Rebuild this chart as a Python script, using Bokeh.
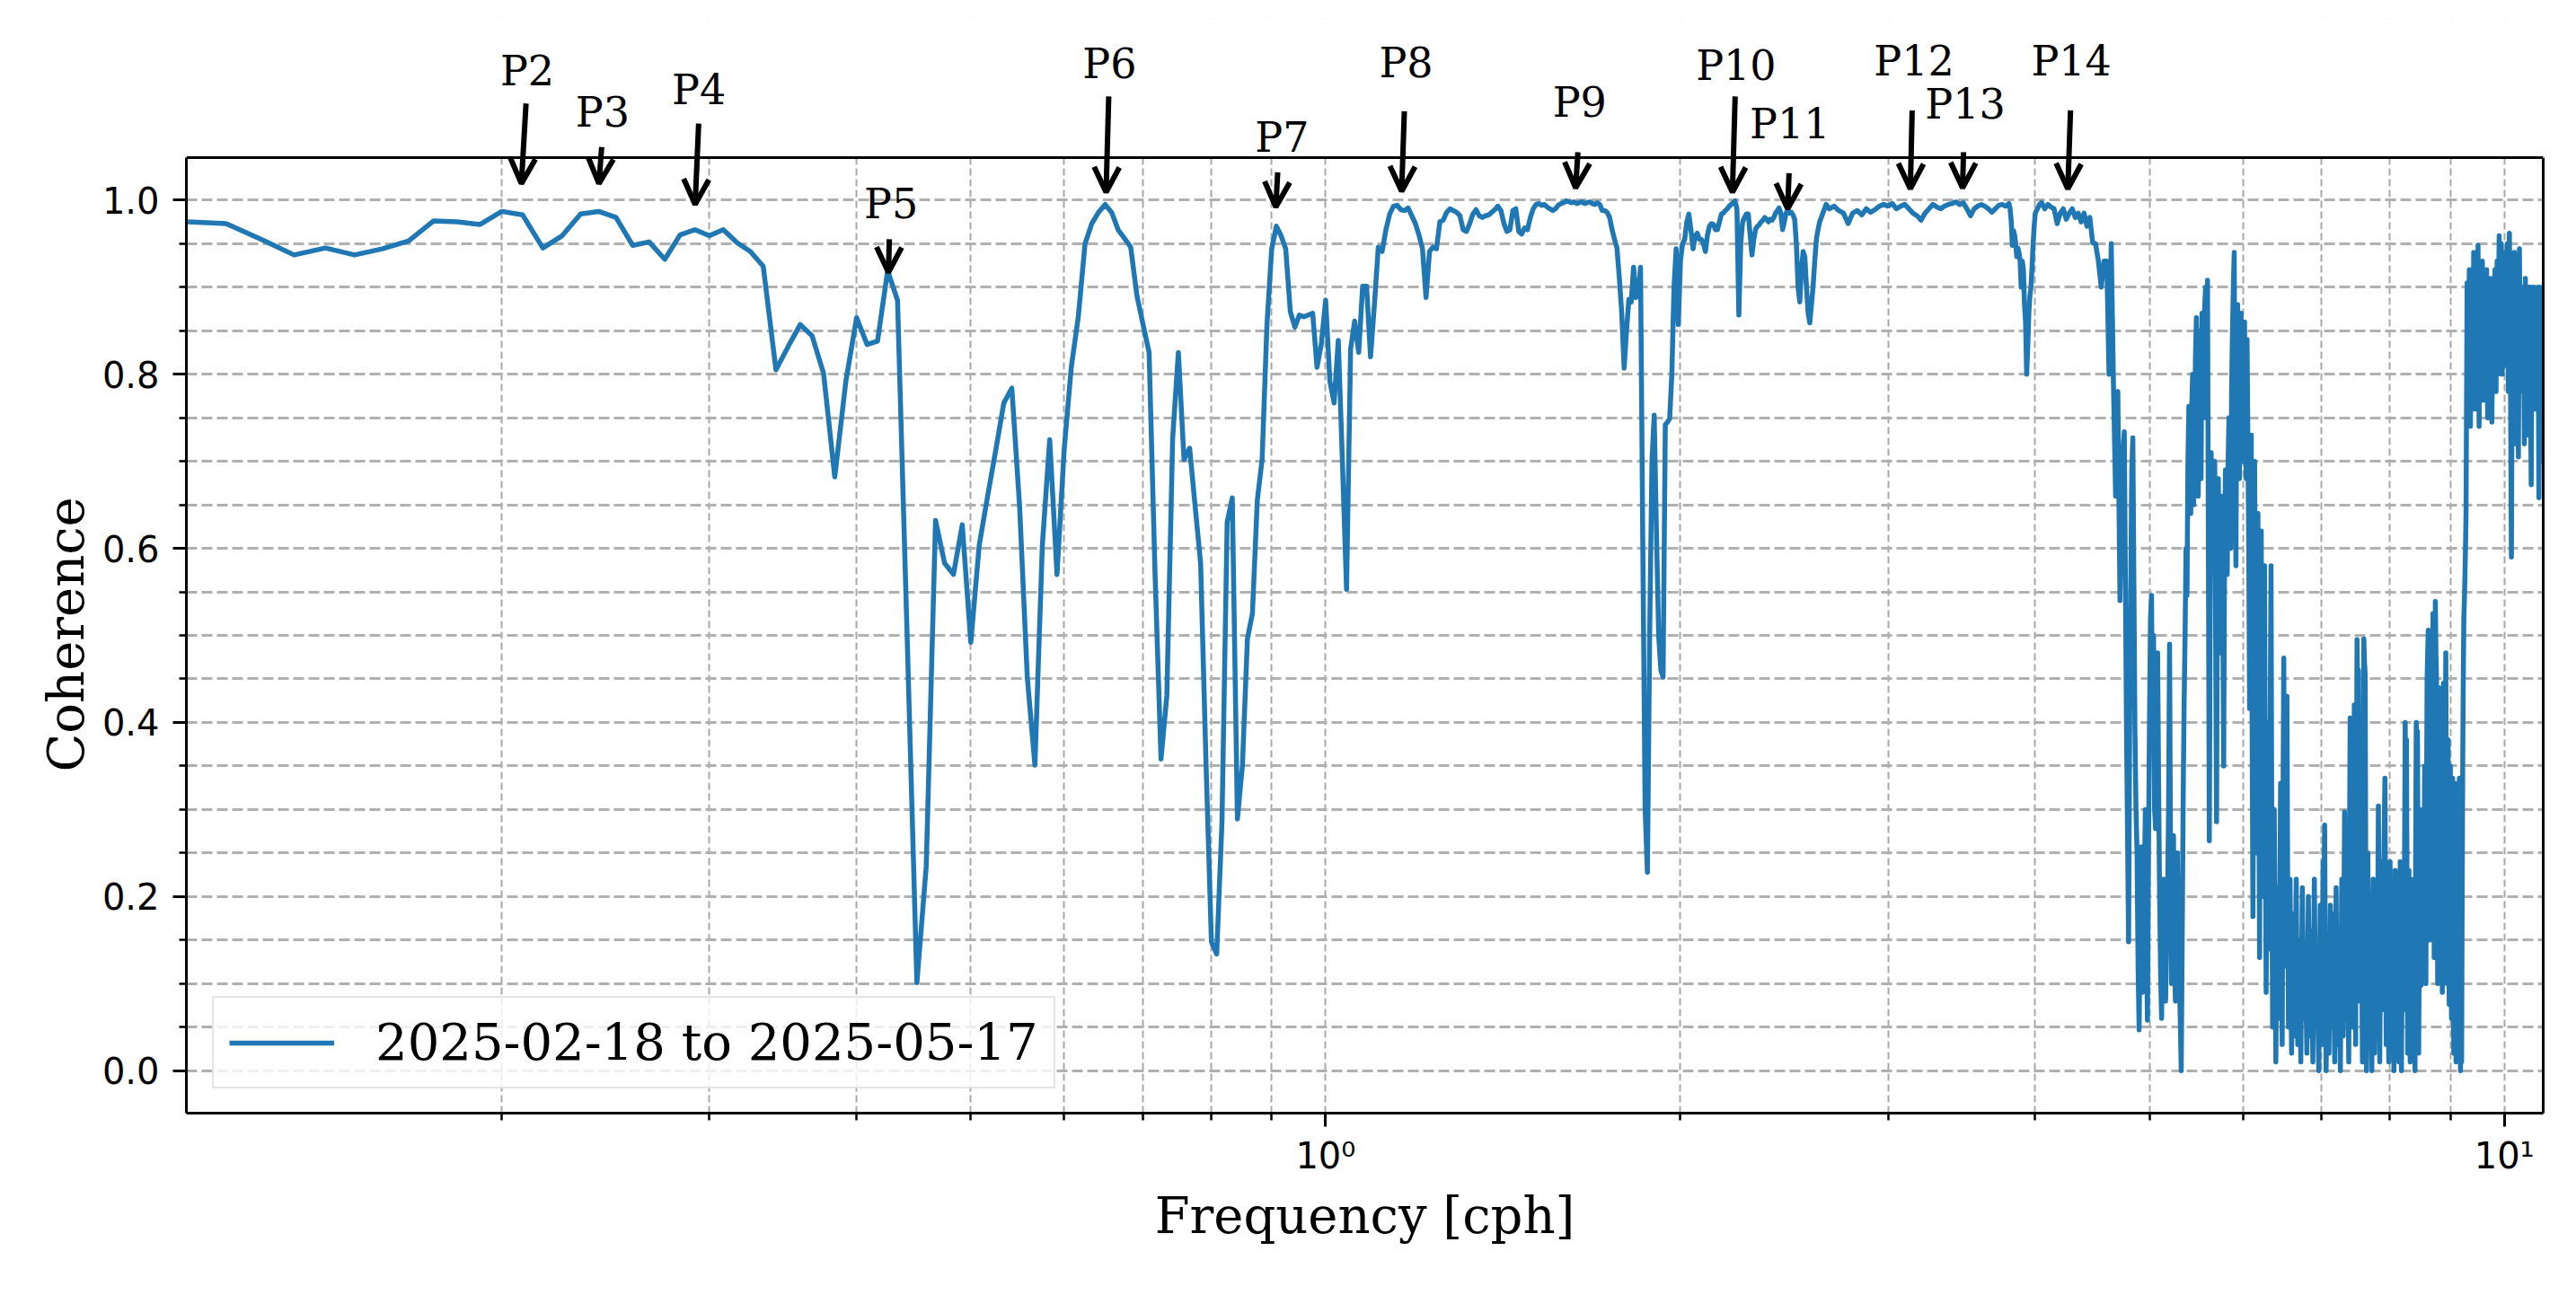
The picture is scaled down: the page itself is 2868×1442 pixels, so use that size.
from bokeh.plotting import figure
from bokeh.models import (Range1d, FixedTicker, Label, Arrow, OpenHead, Legend, LinearAxis, Title,
                          LegendItem, PrintfTickFormatter, ColumnDataSource, Span, BoxAnnotation)
from bokeh.embed import file_html
from bokeh.resources import INLINE

# ---------------- data ----------------
freq_low = [0.1083, 0.1167, 0.125, 0.1333, 0.1417, 0.15, 0.1583, 0.1667, 0.175, 0.1833,
            0.1917, 0.2, 0.2083, 0.2167, 0.225, 0.2333, 0.2417, 0.25, 0.2583, 0.2667,
            0.275, 0.2833, 0.2917, 0.3, 0.3083, 0.3167, 0.325, 0.3333, 0.3417, 0.35,
            0.3583, 0.3667, 0.375, 0.3833, 0.3917, 0.4, 0.4083, 0.4167, 0.425, 0.4333,
            0.4417, 0.45, 0.4583, 0.4667, 0.475, 0.4833, 0.4917, 0.5, 0.5083, 0.5167,
            0.525, 0.5333, 0.5417, 0.55, 0.5583, 0.5667, 0.575, 0.5833, 0.5917, 0.6,
            0.6083, 0.6167, 0.625, 0.6333, 0.6417, 0.65, 0.6583, 0.6667, 0.675, 0.6833,
            0.6917, 0.7, 0.7083, 0.7167, 0.725]
coh_low = [0.975, 0.973, 0.955, 0.937, 0.945, 0.937, 0.944, 0.953, 0.976, 0.975,
           0.972, 0.987, 0.983, 0.945, 0.959, 0.984, 0.987, 0.980, 0.948, 0.952,
           0.932, 0.960, 0.966, 0.959, 0.966, 0.951, 0.941, 0.924, 0.805, 0.832,
           0.857, 0.844, 0.801, 0.682, 0.792, 0.865, 0.834, 0.838, 0.919, 0.885,
           0.490, 0.101, 0.235, 0.632, 0.583, 0.570, 0.627, 0.492, 0.604, 0.660,
           0.713, 0.767, 0.784, 0.648, 0.452, 0.351, 0.604, 0.725, 0.570, 0.713,
           0.807, 0.865, 0.950, 0.973, 0.986, 0.995, 0.986, 0.966, 0.956, 0.946,
           0.890, 0.857, 0.825, 0.568, 0.358]

freq_mid = [0.7333, 0.7417, 0.75, 0.7583, 0.7667, 0.775, 0.7833, 0.7917, 0.8, 0.8083,
            0.8167, 0.825, 0.8333, 0.8417, 0.85, 0.8583, 0.8667, 0.875, 0.8833, 0.8917,
            0.9, 0.9083, 0.9167, 0.925, 0.9333, 0.9417, 0.95, 0.9583, 0.9667, 0.975,
            0.9833, 0.9917, 1.0, 1.0083, 1.0167, 1.025, 1.0333, 1.0417, 1.05, 1.0583,
            1.0667, 1.075, 1.0833, 1.0917, 1.1, 1.1083, 1.1167, 1.125, 1.1333, 1.1417,
            1.15, 1.1583, 1.1667, 1.175, 1.1833, 1.1917, 1.2, 1.2083, 1.2167, 1.225,
            1.2333, 1.2417, 1.25, 1.2583, 1.2667, 1.275, 1.2833, 1.2917, 1.3, 1.3083,
            1.3167, 1.325, 1.3333, 1.3417, 1.35, 1.3583, 1.3667, 1.375, 1.3833, 1.3917,
            1.4, 1.4083, 1.4167, 1.425, 1.4333, 1.4417, 1.45, 1.4583, 1.4667, 1.475,
            1.4833, 1.4917, 1.5]
coh_mid = [0.431, 0.727, 0.825, 0.702, 0.715, 0.648, 0.583, 0.351, 0.148, 0.134,
           0.286, 0.630, 0.658, 0.289, 0.351, 0.496, 0.525, 0.655, 0.702, 0.857,
           0.944, 0.970, 0.959, 0.944, 0.872, 0.854, 0.868, 0.866, 0.868, 0.870,
           0.808, 0.835, 0.885, 0.792, 0.767, 0.839, 0.700, 0.553, 0.829, 0.861,
           0.825, 0.901, 0.901, 0.820, 0.880, 0.946, 0.941, 0.966, 0.984, 0.993,
           0.994, 0.989, 0.988, 0.991, 0.982, 0.973, 0.960, 0.944, 0.888, 0.941,
           0.946, 0.944, 0.975, 0.977, 0.986, 0.990, 0.988, 0.986, 0.982, 0.966,
           0.964, 0.973, 0.984, 0.989, 0.982, 0.980, 0.982, 0.983, 0.986, 0.989,
           0.993, 0.988, 0.973, 0.964, 0.966, 0.988, 0.990, 0.964, 0.961, 0.968,
           0.966, 0.980, 0.990]

freq_band3 = [1.5083, 1.5167, 1.525, 1.5333, 1.5417, 1.55, 1.5583, 1.5667, 1.575, 1.5833,
              1.5917, 1.6, 1.6083, 1.6167, 1.625, 1.6333, 1.6417, 1.65, 1.6583, 1.6667,
              1.675, 1.6833, 1.6917, 1.7, 1.7083, 1.7167, 1.725, 1.7333, 1.7417, 1.75,
              1.7583, 1.7667, 1.775, 1.7833, 1.7917, 1.8, 1.8083, 1.8167, 1.825, 1.8333,
              1.8417, 1.85, 1.8583, 1.8667, 1.875, 1.8833, 1.8917, 1.9, 1.9083, 1.9167,
              1.925, 1.9333, 1.9417, 1.95, 1.9583, 1.9667, 1.975, 1.9833, 1.9917, 2.0]
coh_band3 = [0.995, 0.996, 0.994, 0.995, 0.992, 0.990, 0.988, 0.990, 0.994, 0.996,
             0.997, 0.999, 0.998, 0.997, 0.998, 0.996, 0.997, 0.998, 0.996, 0.997,
             0.998, 0.996, 0.995, 0.997, 0.995, 0.988, 0.988, 0.986, 0.980, 0.966,
             0.955, 0.945, 0.910, 0.870, 0.807, 0.850, 0.886, 0.883, 0.923, 0.888,
             0.894, 0.923, 0.600, 0.300, 0.228, 0.500, 0.700, 0.753, 0.620, 0.500,
             0.460, 0.452, 0.742, 0.745, 0.749, 0.800, 0.900, 0.944, 0.857, 0.930]

freq_band4 = [2.0083, 2.0167, 2.025, 2.0333, 2.0417, 2.05, 2.0583, 2.0667, 2.075, 2.0833,
              2.0917, 2.1, 2.1083, 2.1167, 2.125, 2.1333, 2.1417, 2.15, 2.1583, 2.1667,
              2.175, 2.1833, 2.1917, 2.2, 2.2083, 2.2167, 2.225, 2.2333, 2.2417, 2.25,
              2.2583, 2.2667, 2.275, 2.2833, 2.2917, 2.3, 2.3083, 2.3167, 2.325, 2.3333,
              2.3417, 2.35, 2.3583, 2.3667, 2.375, 2.3833, 2.3917, 2.4, 2.4083, 2.4167,
              2.425, 2.4333, 2.4417, 2.45, 2.4583, 2.4667, 2.475, 2.4833, 2.4917, 2.5,
              2.5083, 2.5167, 2.525, 2.5333, 2.5417, 2.55, 2.5583, 2.5667, 2.575, 2.5833,
              2.5917, 2.6, 2.6083, 2.6167, 2.625, 2.6333, 2.6417, 2.65, 2.6583]
coh_band4 = [0.950, 0.955, 0.975, 0.984, 0.965, 0.944, 0.958, 0.962, 0.955, 0.955,
             0.950, 0.941, 0.960, 0.970, 0.973, 0.972, 0.966, 0.966, 0.975, 0.984,
             0.985, 0.988, 0.990, 0.993, 0.995, 0.997, 0.999, 0.990, 0.868, 0.950,
             0.975, 0.980, 0.984, 0.984, 0.960, 0.937, 0.955, 0.967, 0.970, 0.972,
             0.975, 0.977, 0.980, 0.978, 0.975, 0.978, 0.977, 0.980, 0.985, 0.988,
             0.991, 0.985, 0.966, 0.975, 0.985, 0.988, 0.985, 0.986, 0.983, 0.978,
             0.950, 0.900, 0.883, 0.920, 0.941, 0.935, 0.900, 0.870, 0.859, 0.880,
             0.901, 0.930, 0.955, 0.966, 0.975, 0.980, 0.985, 0.990, 0.995]

freq_band5 = [2.675, 2.7, 2.725, 2.75, 2.775, 2.8, 2.825, 2.85, 2.875, 2.9,
              2.925, 2.95, 2.975, 3.0, 3.025, 3.05, 3.075, 3.1, 3.125, 3.15,
              3.175, 3.2, 3.225, 3.25, 3.275, 3.3, 3.325, 3.35, 3.375, 3.4,
              3.425, 3.45, 3.475, 3.5, 3.525, 3.55, 3.575, 3.6, 3.625, 3.65,
              3.675, 3.7, 3.725, 3.75, 3.775, 3.8]
coh_band5 = [0.990, 0.993, 0.988, 0.985, 0.973, 0.985, 0.988, 0.983, 0.990, 0.986,
             0.989, 0.993, 0.995, 0.993, 0.996, 0.990, 0.993, 0.995, 0.990, 0.985,
             0.982, 0.977, 0.985, 0.990, 0.995, 0.992, 0.990, 0.993, 0.995, 0.996,
             0.998, 0.995, 0.997, 0.990, 0.982, 0.990, 0.993, 0.995, 0.993, 0.990,
             0.986, 0.990, 0.994, 0.995, 0.993, 0.996]

freq_band6 = [3.8083, 3.8167, 3.825, 3.8333, 3.8417, 3.85, 3.8583, 3.8667, 3.875, 3.8833,
              3.8917, 3.9, 3.9083, 3.9167, 3.925, 3.9333, 3.9417, 3.95, 3.9583, 3.9667,
              3.975, 3.9833, 3.9917, 4.0, 4.0167, 4.0333, 4.05, 4.075, 4.1, 4.125,
              4.15, 4.175, 4.2, 4.225, 4.25, 4.275, 4.3, 4.325, 4.35, 4.375,
              4.4, 4.425, 4.45, 4.475, 4.5, 4.525, 4.55, 4.575]
coh_band6 = [0.990, 0.975, 0.948, 0.965, 0.960, 0.950, 0.935, 0.945, 0.940, 0.930,
             0.900, 0.930, 0.920, 0.880, 0.860, 0.800, 0.830, 0.870, 0.890, 0.900,
             0.923, 0.950, 0.970, 0.985, 0.990, 0.995, 0.997, 0.990, 0.995, 0.992,
             0.990, 0.973, 0.985, 0.990, 0.978, 0.985, 0.990, 0.980, 0.985, 0.975,
             0.985, 0.970, 0.980, 0.951, 0.950, 0.930, 0.900, 0.930]

freq_dense = [4.60, 4.62, 4.64, 4.66, 4.68, 4.70, 4.72, 4.74, 4.76, 4.78,
              4.80, 4.82, 4.84, 4.86, 4.88, 4.90, 4.92, 4.94, 4.96, 4.98,
              5.00, 5.02, 5.04, 5.06, 5.08, 5.10, 5.12, 5.14, 5.16, 5.18,
              5.20, 5.22, 5.24, 5.26, 5.28, 5.30, 5.32, 5.34, 5.36, 5.38,
              5.40, 5.42, 5.44, 5.46, 5.48, 5.50, 5.52, 5.54, 5.56, 5.58,
              5.60, 5.62, 5.64, 5.66, 5.68, 5.70, 5.72, 5.74, 5.76, 5.78,
              5.80, 5.82, 5.84, 5.86, 5.88, 5.90, 5.92, 5.94, 5.96, 5.98,
              6.00, 6.02, 6.04, 6.06, 6.08, 6.10, 6.12, 6.14, 6.16, 6.18,
              6.20, 6.22, 6.24, 6.26, 6.28, 6.30, 6.32, 6.34, 6.36, 6.38,
              6.40, 6.42, 6.44, 6.46, 6.48, 6.50, 6.52, 6.54, 6.56, 6.58,
              6.60, 6.62, 6.64, 6.66, 6.68, 6.70, 6.72, 6.74, 6.76, 6.78,
              6.80, 6.82, 6.84, 6.86, 6.88, 6.90, 6.92, 6.94, 6.96, 6.98,
              7.00, 7.02, 7.04, 7.06, 7.08, 7.10, 7.12, 7.14, 7.16, 7.18,
              7.20, 7.22, 7.24, 7.26, 7.28, 7.30, 7.32, 7.34, 7.36, 7.38,
              7.40, 7.42, 7.44, 7.46, 7.48, 7.50, 7.52, 7.54, 7.56, 7.58,
              7.60, 7.62, 7.64, 7.66, 7.68, 7.70, 7.72, 7.74, 7.76, 7.78,
              7.80, 7.82, 7.84, 7.86, 7.88, 7.90, 7.92, 7.94, 7.96, 7.98,
              8.00, 8.02, 8.04, 8.06, 8.08, 8.10, 8.12, 8.14, 8.16, 8.18,
              8.20, 8.22, 8.24, 8.26, 8.28, 8.30, 8.32, 8.34, 8.36, 8.38,
              8.40, 8.42, 8.44, 8.46, 8.48, 8.50, 8.52, 8.54, 8.56, 8.58,
              8.60, 8.62, 8.64, 8.66, 8.68, 8.70, 8.72, 8.74, 8.76, 8.78,
              8.80, 8.82, 8.84, 8.86, 8.88, 8.90, 8.92, 8.94, 8.96, 8.98,
              9.00, 9.02, 9.04, 9.06, 9.08, 9.10, 9.12, 9.14, 9.16, 9.18,
              9.20, 9.22, 9.24, 9.26, 9.28, 9.30, 9.32, 9.34, 9.36, 9.38,
              9.40, 9.42, 9.44, 9.46, 9.48, 9.50, 9.52, 9.54, 9.56, 9.58,
              9.60, 9.62, 9.64, 9.66, 9.68, 9.70, 9.72, 9.74, 9.76, 9.78,
              9.80, 9.82, 9.84, 9.86, 9.88, 9.90, 9.92, 9.94, 9.96, 9.98,
              10.00, 10.02, 10.04, 10.06, 10.08, 10.10, 10.12, 10.14, 10.16, 10.18,
              10.20, 10.22, 10.24, 10.26, 10.28, 10.30, 10.32, 10.34, 10.36, 10.38,
              10.40, 10.42, 10.44, 10.46, 10.48, 10.50, 10.52, 10.54, 10.56, 10.58,
              10.60, 10.62, 10.64, 10.66, 10.68, 10.70, 10.72, 10.74, 10.76, 10.78]
coh_dense = [0.930, 0.800, 0.950, 0.790, 0.660, 0.780, 0.540, 0.700, 0.734, 0.400,
             0.148, 0.550, 0.727, 0.390, 0.250, 0.047, 0.257, 0.120, 0.300, 0.058,
             0.400, 0.546, 0.500, 0.278, 0.480, 0.200, 0.060, 0.220, 0.080, 0.200,
             0.490, 0.100, 0.270, 0.080, 0.250, 0.100, 0.000, 0.310, 0.500, 0.546,
             0.763, 0.640, 0.800, 0.700, 0.865, 0.660, 0.850, 0.870, 0.750, 0.900,
             0.908, 0.264, 0.710, 0.620, 0.700, 0.286, 0.680, 0.480, 0.660, 0.350,
             0.690, 0.570, 0.750, 0.600, 0.850, 0.940, 0.580, 0.880, 0.680, 0.870,
             0.700, 0.860, 0.680, 0.720, 0.416, 0.730, 0.177, 0.700, 0.250, 0.640,
             0.130, 0.620, 0.200, 0.580, 0.090, 0.400, 0.140, 0.580, 0.050, 0.300,
             0.010, 0.210, 0.060, 0.330, 0.030, 0.474, 0.120, 0.430, 0.050, 0.220,
             0.020, 0.180, 0.040, 0.220, 0.030, 0.150, 0.010, 0.210, 0.060, 0.140,
             0.020, 0.200, 0.040, 0.160, 0.010, 0.220, 0.050, 0.120, 0.000, 0.190,
             0.030, 0.240, 0.282, 0.000, 0.140, 0.020, 0.190, 0.050, 0.180, 0.010,
             0.210, 0.030, 0.150, 0.000, 0.220, 0.040, 0.297, 0.060, 0.170, 0.010,
             0.405, 0.380, 0.050, 0.420, 0.030, 0.495, 0.460, 0.080, 0.256, 0.010,
             0.496, 0.456, 0.000, 0.250, 0.040, 0.170, 0.000, 0.220, 0.020, 0.200,
             0.050, 0.304, 0.010, 0.240, 0.070, 0.220, 0.336, 0.030, 0.200, 0.010,
             0.240, 0.020, 0.220, 0.000, 0.230, 0.030, 0.210, 0.010, 0.240, 0.000,
             0.220, 0.070, 0.400, 0.380, 0.020, 0.230, 0.010, 0.220, 0.050, 0.200,
             0.000, 0.400, 0.390, 0.020, 0.300, 0.098, 0.280, 0.110, 0.350, 0.100,
             0.450, 0.506, 0.150, 0.480, 0.200, 0.525, 0.130, 0.539, 0.450, 0.100,
             0.440, 0.140, 0.400, 0.090, 0.445, 0.250, 0.480, 0.100, 0.380, 0.076,
             0.350, 0.060, 0.336, 0.020, 0.330, 0.010, 0.300, 0.030, 0.336, 0.000,
             0.010, 0.350, 0.520, 0.568, 0.640, 0.905, 0.810, 0.920, 0.740, 0.910,
             0.790, 0.940, 0.760, 0.920, 0.800, 0.948, 0.740, 0.900, 0.820, 0.930,
             0.770, 0.910, 0.800, 0.920, 0.750, 0.900, 0.790, 0.910, 0.745, 0.890,
             0.820, 0.920, 0.780, 0.930, 0.800, 0.959, 0.830, 0.950, 0.800, 0.940,
             0.850, 0.930, 0.810, 0.950, 0.780, 0.962, 0.820, 0.590, 0.900, 0.800,
             0.940, 0.720, 0.900, 0.800, 0.705, 0.944, 0.780, 0.900, 0.800, 0.900,
             0.720, 0.910, 0.800, 0.890, 0.730, 0.900, 0.790, 0.673, 0.900, 0.800,
             0.900, 0.760, 0.890, 0.800, 0.900, 0.658, 0.900, 0.700, 0.880, 0.720]

# intermediate bins of the noisy high-frequency band
freq_dense_b = [4.81, 4.83, 4.85, 4.87, 4.89, 4.91, 4.93, 4.95, 4.97, 4.99,
                5.01, 5.03, 5.05, 5.07, 5.09, 5.11, 5.13, 5.15, 5.17, 5.19,
                5.21, 5.23, 5.25, 5.27, 5.29, 5.31, 5.33, 5.35, 5.37, 5.39,
                5.41, 5.43, 5.45, 5.47, 5.49, 5.51, 5.53, 5.55, 5.57, 5.59,
                5.61, 5.63, 5.65, 5.67, 5.69, 5.71, 5.73, 5.75, 5.77, 5.79,
                5.81, 5.83, 5.85, 5.87, 5.89, 5.91, 5.93, 5.95, 5.97, 5.99,
                6.01, 6.03, 6.05, 6.07, 6.09, 6.11, 6.13, 6.15, 6.17, 6.19,
                6.21, 6.23, 6.25, 6.27, 6.29, 6.31, 6.33, 6.35, 6.37, 6.39,
                6.41, 6.43, 6.45, 6.47, 6.49, 6.51, 6.53, 6.55, 6.57, 6.59,
                6.61, 6.63, 6.65, 6.67, 6.69, 6.71, 6.73, 6.75, 6.77, 6.79,
                6.81, 6.83, 6.85, 6.87, 6.89, 6.91, 6.93, 6.95, 6.97, 6.99,
                7.01, 7.03, 7.05, 7.07, 7.09, 7.11, 7.13, 7.15, 7.17, 7.19,
                7.21, 7.23, 7.25, 7.27, 7.29, 7.31, 7.33, 7.35, 7.37, 7.39,
                7.41, 7.43, 7.45, 7.47, 7.49, 7.51, 7.53, 7.55, 7.57, 7.59,
                7.61, 7.63, 7.65, 7.67, 7.69, 7.71, 7.73, 7.75, 7.77, 7.79,
                7.81, 7.83, 7.85, 7.87, 7.89, 7.91, 7.93, 7.95, 7.97, 7.99,
                8.01, 8.03, 8.05, 8.07, 8.09, 8.11, 8.13, 8.15, 8.17, 8.19,
                8.21, 8.23, 8.25, 8.27, 8.29, 8.31, 8.33, 8.35, 8.37, 8.39,
                8.41, 8.43, 8.45, 8.47, 8.49, 8.51, 8.53, 8.55, 8.57, 8.59,
                8.61, 8.63, 8.65, 8.67, 8.69, 8.71, 8.73, 8.75, 8.77, 8.79,
                8.81, 8.83, 8.85, 8.87, 8.89, 8.91, 8.93, 8.95, 8.97, 8.99,
                9.01, 9.03, 9.05, 9.07, 9.09, 9.11, 9.13, 9.15, 9.17, 9.19,
                9.21, 9.23, 9.25, 9.27, 9.29, 9.31, 9.33, 9.35, 9.37, 9.39,
                9.41, 9.43, 9.45, 9.47, 9.49, 9.51, 9.53, 9.55, 9.57, 9.59,
                9.61, 9.63, 9.65, 9.67, 9.69, 9.71, 9.73, 9.75, 9.77, 9.79,
                9.81, 9.83, 9.85, 9.87, 9.89, 9.91, 9.93, 9.95, 9.97, 9.99,
                10.01, 10.03, 10.05, 10.07, 10.09, 10.11, 10.13, 10.15, 10.17, 10.19,
                10.21, 10.23, 10.25, 10.27, 10.29, 10.31, 10.33, 10.35, 10.37, 10.39,
                10.41, 10.43, 10.45, 10.47, 10.49, 10.51, 10.53, 10.55, 10.57, 10.59,
                10.61, 10.63, 10.65, 10.67, 10.69, 10.71, 10.73, 10.75, 10.77]
coh_dense_b = [0.400, 0.690, 0.560, 0.300, 0.120, 0.180, 0.090, 0.220, 0.150, 0.250,
               0.520, 0.380, 0.300, 0.420, 0.330, 0.110, 0.180, 0.120, 0.160, 0.300,
               0.250, 0.200, 0.130, 0.200, 0.150, 0.060, 0.150, 0.420, 0.600, 0.700,
               0.700, 0.760, 0.650, 0.820, 0.720, 0.800, 0.680, 0.820, 0.880, 0.800,
               0.600, 0.550, 0.650, 0.680, 0.500, 0.600, 0.560, 0.620, 0.520, 0.600,
               0.620, 0.700, 0.650, 0.780, 0.900, 0.700, 0.800, 0.750, 0.820, 0.760,
               0.800, 0.760, 0.840, 0.600, 0.650, 0.400, 0.500, 0.450, 0.550, 0.350,
               0.450, 0.350, 0.450, 0.300, 0.250, 0.280, 0.400, 0.250, 0.180, 0.150,
               0.120, 0.140, 0.200, 0.150, 0.300, 0.250, 0.300, 0.200, 0.140, 0.100,
               0.110, 0.090, 0.140, 0.100, 0.080, 0.090, 0.120, 0.130, 0.080, 0.070,
               0.120, 0.110, 0.090, 0.070, 0.130, 0.120, 0.060, 0.050, 0.110, 0.100,
               0.150, 0.200, 0.120, 0.070, 0.090, 0.110, 0.100, 0.120, 0.080, 0.120,
               0.100, 0.090, 0.070, 0.120, 0.110, 0.180, 0.150, 0.100, 0.080, 0.250,
               0.300, 0.200, 0.250, 0.200, 0.300, 0.420, 0.250, 0.150, 0.120, 0.300,
               0.470, 0.200, 0.120, 0.130, 0.090, 0.080, 0.100, 0.110, 0.100, 0.120,
               0.180, 0.150, 0.120, 0.150, 0.140, 0.280, 0.180, 0.110, 0.100, 0.130,
               0.120, 0.110, 0.100, 0.120, 0.130, 0.100, 0.110, 0.120, 0.110, 0.120,
               0.140, 0.250, 0.300, 0.200, 0.120, 0.110, 0.120, 0.130, 0.110, 0.100,
               0.250, 0.300, 0.200, 0.150, 0.200, 0.180, 0.200, 0.250, 0.220, 0.300,
               0.480, 0.300, 0.320, 0.350, 0.380, 0.300, 0.400, 0.480, 0.250, 0.300,
               0.280, 0.270, 0.250, 0.300, 0.350, 0.360, 0.280, 0.250, 0.200, 0.220,
               0.200, 0.190, 0.150, 0.170, 0.160, 0.150, 0.160, 0.180, 0.150, 0.050,
               0.200, 0.450, 0.540, 0.600, 0.780, 0.850, 0.880, 0.830, 0.840, 0.850,
               0.870, 0.850, 0.840, 0.860, 0.880, 0.840, 0.820, 0.860, 0.870, 0.850,
               0.840, 0.860, 0.850, 0.830, 0.820, 0.850, 0.860, 0.820, 0.810, 0.850,
               0.870, 0.850, 0.860, 0.870, 0.880, 0.900, 0.880, 0.870, 0.870, 0.890,
               0.890, 0.870, 0.880, 0.860, 0.880, 0.900, 0.700, 0.750, 0.860, 0.870,
               0.820, 0.800, 0.850, 0.760, 0.830, 0.860, 0.840, 0.850, 0.850, 0.800,
               0.820, 0.850, 0.840, 0.820, 0.810, 0.840, 0.740, 0.800, 0.850, 0.840,
               0.830, 0.820, 0.840, 0.850, 0.780, 0.780, 0.800, 0.790, 0.800]

series_label = "2025-02-18 to 2025-05-17"

# peak annotations (arrow tip, arrow tail, label position)
peak_names = ["P2", "P3", "P4", "P5", "P6", "P7", "P8", "P9", "P10", "P11", "P12", "P13", "P14"]
tip_f = [0.2078, 0.2418, 0.2918, 0.4257, 0.6512, 0.9073, 1.1601, 1.6298, 2.2137, 2.4660, 3.1339, 3.4705, 4.2627]
tip_c = [1.019, 1.019, 0.995, 0.917, 1.009, 0.992, 1.010, 1.014, 1.009, 0.990, 1.013, 1.014, 1.013]
tail_f = [0.2097, 0.2431, 0.2938, 0.4264, 0.6546, 0.9106, 1.1662, 1.6369, 2.2255, 2.4727, 3.1450, 3.4768, 4.2853]
tail_c = [1.111, 1.061, 1.088, 0.955, 1.119, 1.032, 1.102, 1.055, 1.119, 1.031, 1.103, 1.055, 1.103]
text_f = [0.2102, 0.2435, 0.2939, 0.4279, 0.6558, 0.9185, 1.1703, 1.6427, 2.2296, 2.4768, 3.1563, 3.4890, 4.2922]
text_c = [1.148, 1.101, 1.127, 0.996, 1.157, 1.072, 1.158, 1.112, 1.155, 1.087, 1.160, 1.110, 1.160]

x_major = [1, 10]
x_major_labels = {1: "10\u2070", 10: "10\u00b9"}
x_minor = [0.2, 0.3, 0.4, 0.5, 0.6, 0.7, 0.8, 0.9, 2, 3, 4, 5, 6, 7, 8, 9]
y_major = [0.0, 0.2, 0.4, 0.6, 0.8, 1.0]
y_minor = [0.05, 0.1, 0.15, 0.25, 0.3, 0.35, 0.45, 0.5, 0.55, 0.65, 0.7, 0.75, 0.85, 0.9, 0.95]

# axes box limits (coherence axis) and the taller drawing area that holds the peak labels
x_lo, x_hi = 0.1080, 10.79
y_lo, y_box_top, y_area_top = -0.0488, 1.0489, 1.2087

# ---------------- assemble series ----------------
bands = [(freq_low, coh_low), (freq_mid, coh_mid), (freq_band3, coh_band3),
         (freq_band4, coh_band4), (freq_band5, coh_band5), (freq_band6, coh_band6),
         (freq_dense, coh_dense), (freq_dense_b, coh_dense_b)]
pairs = []
for fl, cl in bands:
    n = min(len(fl), len(cl))
    pairs.extend(zip(fl[:n], cl[:n]))
pairs.sort(key=lambda t: t[0])
src = ColumnDataSource(dict(f=[a for a, _ in pairs], c=[b for _, b in pairs]))

# ---------------- figure ----------------
p = figure(frame_width=2624, frame_height=1219, x_axis_type="log",
           x_range=Range1d(x_lo, x_hi), y_range=Range1d(y_lo, y_area_top),
           output_backend="svg", toolbar_location=None,
           min_border_left=207, min_border_right=28, min_border_top=20, min_border_bottom=195)
p.background_fill_color = "white"
p.border_fill_color = "white"
p.outline_line_color = None

r = p.line("f", "c", source=src, line_color="#1f77b4", line_width=5.5, line_join="round")

p.xaxis.ticker = FixedTicker(ticks=x_major, minor_ticks=x_minor)
p.xaxis.major_label_overrides = x_major_labels
p.yaxis.ticker = FixedTicker(ticks=y_major, minor_ticks=y_minor)
p.yaxis.formatter = PrintfTickFormatter(format="%.1f")
p.yaxis.bounds = (y_lo, y_box_top)

for ax in (p.xaxis[0], p.yaxis[0]):
    ax.axis_line_color = "black"
    ax.axis_line_width = 3
    ax.major_tick_in = 0
    ax.major_tick_out = 15
    ax.minor_tick_in = 0
    ax.minor_tick_out = 8
    ax.major_tick_line_width = 3
    ax.minor_tick_line_width = 2.5
    ax.major_tick_line_color = "black"
    ax.minor_tick_line_color = "black"
    ax.major_label_text_font = "DejaVu Sans"
    ax.major_label_text_font_size = "40px"
    ax.major_label_text_color = "black"
    ax.axis_label_text_font = "DejaVu Serif"
    ax.axis_label_text_font_size = "56px"
    ax.axis_label_text_font_style = "normal"
    ax.axis_label_text_color = "black"

p.xaxis.axis_label = "Frequency [cph]"
p.xaxis.major_label_standoff = 9
p.xaxis.axis_label_standoff = 8
p.yaxis.major_label_standoff = 15

# y-axis title, centred on the axes box (not on the taller drawing area)
p.add_layout(Title(text="Coherence", align="left", offset=380, standoff=10,
                   text_font="DejaVu Serif", text_font_size="56px",
                   text_font_style="normal", text_color="black"), "left")

# right spine
right_axis = LinearAxis(ticker=FixedTicker(ticks=[]), bounds=(y_lo, y_box_top),
                        axis_line_color="black", axis_line_width=3,
                        major_tick_line_color=None, minor_tick_line_color=None)
p.add_layout(right_axis, "right")

p.xgrid.grid_line_color = "#a8a8a8"
p.xgrid.grid_line_width = 2
p.xgrid.grid_line_dash = "8 4"
p.xgrid.minor_grid_line_color = "#a8a8a8"
p.xgrid.minor_grid_line_width = 2
p.xgrid.minor_grid_line_dash = "8 4"
p.ygrid.grid_line_color = "#b0b0b0"
p.ygrid.grid_line_width = 3
p.ygrid.grid_line_dash = "12 5"
p.ygrid.minor_grid_line_color = "#b0b0b0"
p.ygrid.minor_grid_line_width = 3
p.ygrid.minor_grid_line_dash = "12 5"

# blank the area above the axes box, then draw the top spine
p.add_layout(BoxAnnotation(bottom=y_box_top, fill_color="white", fill_alpha=1.0,
                           line_color=None))
p.add_layout(Span(location=y_box_top, dimension="width", line_color="black", line_width=3))

legend = Legend(items=[LegendItem(label=series_label, renderers=[r])],
                location=(29, 27), margin=0, padding=17, spacing=0,
                glyph_width=117, glyph_height=62, label_height=62, label_standoff=46,
                label_text_font="DejaVu Serif", label_text_font_size="56px",
                label_text_color="black",
                border_line_color="#cccccc", border_line_width=2.5,
                background_fill_color="white", background_fill_alpha=0.8)
p.add_layout(legend)

for name, tf, tc, af, ac, lf, lc in zip(peak_names, tip_f, tip_c, tail_f, tail_c, text_f, text_c):
    p.add_layout(Arrow(x_start=af, y_start=ac, x_end=tf, y_end=tc,
                       line_color="black", line_width=6,
                       end=OpenHead(size=28, line_color="black", line_width=6)))
    p.add_layout(Label(x=lf, y=lc, text=name, text_align="center",
                       text_baseline="alphabetic", text_font="DejaVu Serif",
                       text_font_size="46px", text_color="black"))

open("out.html", "w").write(file_html(p, INLINE))
